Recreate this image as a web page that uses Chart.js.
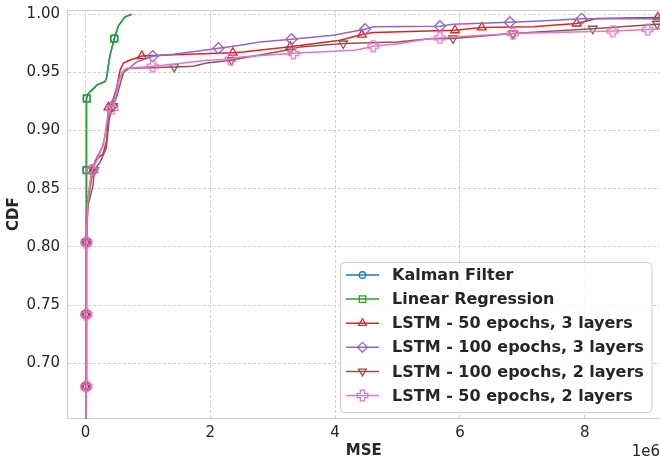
<!DOCTYPE html>
<html>
<head>
<meta charset="utf-8">
<script src="https://cdn.jsdelivr.net/npm/chart.js@4"></script>
<style>
  html, body { margin: 0; padding: 0; background: #fff; overflow: hidden; }
  #wrap { width: 660px; height: 459px; }
</style>
</head>
<body>
<div id="wrap"><canvas id="cdfChart" width="660" height="459"></canvas></div>
<script>
// MSE values are in raw units, tick labels are shown in 1e6
const M = 1e6;

const seriesNames = [
  'Kalman Filter',
  'Linear Regression',
  'LSTM - 50 epochs, 3 layers',
  'LSTM - 100 epochs, 3 layers',
  'LSTM - 100 epochs, 2 layers',
  'LSTM - 50 epochs, 2 layers'
];

const kalmanMse = [0.005, 0.008, 0.010, 0.012, 0.015, 0.019, 0.045, 0.125, 0.179, 0.31, 0.34, 0.365, 0.393, 0.46, 0.526, 0.633, 0.74];
const kalmanCdf = [0.64, 0.68, 0.742, 0.804, 0.866, 0.9275, 0.932, 0.936, 0.939, 0.942, 0.946, 0.956, 0.965, 0.979, 0.990, 0.9977, 1.0];
const kalmanMarks = [1, 2, 3, 4, 5, 13];

const linRegMse = [0.005, 0.008, 0.010, 0.012, 0.015, 0.019, 0.045, 0.125, 0.179, 0.31, 0.34, 0.365, 0.393, 0.46, 0.526, 0.633, 0.74];
const linRegCdf = [0.64, 0.68, 0.742, 0.804, 0.866, 0.9275, 0.932, 0.936, 0.939, 0.942, 0.946, 0.956, 0.965, 0.979, 0.990, 0.9977, 1.0];
const linRegMarks = [1, 2, 3, 4, 5, 13];

const lstm50x3Mse = [0.005, 0.008, 0.010, 0.012, 0.016, 0.072, 0.12, 0.152, 0.28, 0.34, 0.365, 0.42, 0.50, 0.553, 0.606, 0.686, 0.90, 1.19, 2.0, 2.36, 2.52, 3.28, 4.08, 4.43, 4.61, 5.92, 6.35, 7.17, 7.87, 8.19, 9.17, 9.6];
const lstm50x3Cdf = [0.64, 0.68, 0.742, 0.804, 0.826, 0.851, 0.866, 0.874, 0.880, 0.892, 0.920, 0.923, 0.937, 0.952, 0.958, 0.960, 0.964, 0.9647, 0.9662, 0.9669, 0.9676, 0.972, 0.9776, 0.9825, 0.9843, 0.9862, 0.9886, 0.9891, 0.992, 0.9963, 0.9972, 0.998];
const lstm50x3Marks = [1, 2, 3, 6, 10, 16, 19, 21, 23, 25, 26, 28, 30];

const lstm100x3Mse = [0.005, 0.008, 0.010, 0.012, 0.032, 0.10, 0.17, 0.28, 0.36, 0.425, 0.49, 0.537, 0.606, 0.66, 0.82, 0.98, 1.077, 1.41, 1.78, 2.13, 2.48, 2.80, 3.30, 3.97, 4.48, 4.61, 5.68, 5.89, 6.80, 7.28, 7.95, 9.6];
const lstm100x3Cdf = [0.64, 0.68, 0.742, 0.804, 0.84, 0.866, 0.876, 0.887, 0.9105, 0.921, 0.9346, 0.945, 0.9503, 0.9518, 0.959, 0.9619, 0.9639, 0.9656, 0.9682, 0.9707, 0.9733, 0.9762, 0.9785, 0.9819, 0.9871, 0.9891, 0.9897, 0.9914, 0.9931, 0.9942, 0.9960, 0.9962];
const lstm100x3Marks = [1, 2, 3, 5, 9, 16, 19, 22, 24, 26, 28, 30];

const lstm100x2Mse = [0.005, 0.008, 0.010, 0.012, 0.04, 0.12, 0.14, 0.23, 0.33, 0.38, 0.44, 0.505, 0.57, 0.617, 0.665, 0.873, 1.42, 1.73, 1.94, 2.34, 2.48, 3.06, 3.28, 3.44, 4.13, 4.99, 5.52, 5.89, 6.85, 7.17, 8.13, 9.16, 9.6];
const lstm100x2Cdf = [0.64, 0.68, 0.742, 0.804, 0.836, 0.853, 0.866, 0.8726, 0.8847, 0.9105, 0.921, 0.930, 0.943, 0.9518, 0.9533, 0.9538, 0.9546, 0.9553, 0.9581, 0.9604, 0.9619, 0.9676, 0.9696, 0.9719, 0.9748, 0.9762, 0.9788, 0.9791, 0.9834, 0.9845, 0.9875, 0.9914, 0.993];
const lstm100x2Marks = [1, 2, 3, 6, 10, 16, 19, 22, 24, 27, 28, 30, 31];

const lstm50x2Mse = [0.005, 0.008, 0.010, 0.012, 0.032, 0.072, 0.104, 0.20, 0.30, 0.36, 0.425, 0.49, 0.537, 0.585, 0.66, 1.077, 1.41, 1.94, 2.32, 2.48, 3.33, 4.29, 4.40, 4.61, 5.04, 5.52, 5.68, 5.89, 6.85, 8.45, 9.01, 9.6];
const lstm50x2Cdf = [0.64, 0.68, 0.742, 0.804, 0.8356, 0.853, 0.866, 0.876, 0.8916, 0.9157, 0.919, 0.930, 0.943, 0.950, 0.9533, 0.9553, 0.957, 0.9604, 0.9613, 0.9633, 0.9664, 0.969, 0.9699, 0.9725, 0.9748, 0.9791, 0.9796, 0.9805, 0.9834, 0.9855, 0.9868, 0.988];
const lstm50x2Marks = [1, 2, 3, 6, 10, 15, 18, 20, 23, 26, 28, 29, 30];

const xTicks = [0, 2, 4, 6, 8];
const yTicks = [0.70, 0.75, 0.80, 0.85, 0.90, 0.95, 1.00];

const colors = ['#1f77b4', '#2ca02c', '#d62728', '#9467bd', '#8c564b', '#e377c2'];
const TEXT = '#262626';
const SPINE = '#cccccc';
const FONT = "'DejaVu Sans', sans-serif";

// hollow filled-plus marker (matplotlib 'P')
function plusMarker(color) {
  const c = document.createElement('canvas');
  c.width = 13; c.height = 13;
  const g = c.getContext('2d');
  const m = 6.5, a = 2.1, L = 5.3;
  g.strokeStyle = color;
  g.lineWidth = 1.3;
  g.beginPath();
  g.moveTo(m - a, m - L); g.lineTo(m + a, m - L); g.lineTo(m + a, m - a);
  g.lineTo(m + L, m - a); g.lineTo(m + L, m + a); g.lineTo(m + a, m + a);
  g.lineTo(m + a, m + L); g.lineTo(m - a, m + L); g.lineTo(m - a, m + a);
  g.lineTo(m - L, m + a); g.lineTo(m - L, m - a); g.lineTo(m - a, m - a);
  g.closePath();
  g.stroke();
  return c;
}

const markers = [
  { style: 'circle', radius: 3.6, rotation: 0 },
  { style: 'rect', radius: 5, rotation: 0 },
  { style: 'triangle', radius: 5, rotation: 0 },
  { style: 'rectRot', radius: 5.5, rotation: 0 },
  { style: 'triangle', radius: 5, rotation: 180 },
  { style: plusMarker(colors[5]), radius: 6, rotation: 0 }
];

const seriesMse = [kalmanMse, linRegMse, lstm50x3Mse, lstm100x3Mse, lstm100x2Mse, lstm50x2Mse];
const seriesCdf = [kalmanCdf, linRegCdf, lstm50x3Cdf, lstm100x3Cdf, lstm100x2Cdf, lstm50x2Cdf];
const seriesMarks = [kalmanMarks, linRegMarks, lstm50x3Marks, lstm100x3Marks, lstm100x2Marks, lstm50x2Marks];

const datasets = seriesNames.map((name, i) => ({
  label: name,
  data: seriesMse[i].map((x, j) => ({ x: x * M, y: seriesCdf[i][j] })),
  borderColor: colors[i],
  backgroundColor: 'rgba(0,0,0,0)',
  borderWidth: 1.5,
  tension: 0,
  pointStyle: markers[i].style,
  pointRotation: markers[i].rotation,
  pointBorderWidth: 1.3,
  pointBorderColor: colors[i],
  pointBackgroundColor: 'rgba(0,0,0,0)',
  pointRadius: ctx => seriesMarks[i].includes(ctx.dataIndex) ? markers[i].radius : 0,
  pointHoverRadius: 0,
  order: seriesNames.length - i
}));

// legend box with line + marker samples, top spine and the 1e6 offset text
const extras = {
  id: 'extras',
  afterDraw(chart) {
    const ctx = chart.ctx;
    const area = chart.chartArea;
    ctx.save();
    ctx.strokeStyle = SPINE;
    ctx.lineWidth = 1;
    ctx.beginPath();
    ctx.moveTo(area.left, area.top + 0.5);
    ctx.lineTo(area.right, area.top + 0.5);
    ctx.stroke();

    ctx.fillStyle = TEXT;
    ctx.font = '15px ' + FONT;
    ctx.textAlign = 'right';
    ctx.textBaseline = 'middle';
    ctx.fillText('1e6', 660, 452);

    const bx = 340.5, by = 262.5, bw = 311.5, bh = 150, r = 4;
    ctx.beginPath();
    ctx.moveTo(bx + r, by);
    ctx.arcTo(bx + bw, by, bx + bw, by + bh, r);
    ctx.arcTo(bx + bw, by + bh, bx, by + bh, r);
    ctx.arcTo(bx, by + bh, bx, by, r);
    ctx.arcTo(bx, by, bx + bw, by, r);
    ctx.closePath();
    ctx.fillStyle = 'rgba(255,255,255,0.85)';
    ctx.fill();
    ctx.strokeStyle = SPINE;
    ctx.stroke();

    seriesNames.forEach((name, i) => {
      const y = 275 + i * 24.1;
      ctx.strokeStyle = colors[i];
      ctx.lineWidth = 1.5;
      ctx.beginPath();
      ctx.moveTo(346, y);
      ctx.lineTo(379, y);
      ctx.stroke();
      ctx.fillStyle = 'rgba(0,0,0,0)';
      ctx.lineWidth = 1.3;
      if (Chart.helpers && Chart.helpers.drawPoint) {
        Chart.helpers.drawPoint(ctx, {
          pointStyle: markers[i].style,
          rotation: markers[i].rotation,
          radius: markers[i].radius * 0.9,
          borderWidth: 1.3
        }, 362.5, y);
      }
      ctx.fillStyle = TEXT;
      ctx.font = 'bold 16px ' + FONT;
      ctx.textAlign = 'left';
      ctx.textBaseline = 'middle';
      ctx.fillText(name, 392, y + 1);
    });
    ctx.restore();
  }
};

const chart = new Chart(document.getElementById('cdfChart'), {
  type: 'line',
  data: { datasets },
  options: {
    responsive: false,
    animation: false,
    events: [],
    layout: { padding: { top: 10, left: 0, right: 0, bottom: 0 } },
    plugins: { legend: { display: false }, tooltip: { enabled: false } },
    scales: {
      x: {
        type: 'linear',
        min: -0.29 * M,
        max: 9.207 * M,
        afterFit: s => { s.height = 40.7; s.paddingLeft = 0; s.paddingRight = 0; },
        afterBuildTicks: s => { s.ticks = xTicks.map(v => ({ value: v * M })); },
        ticks: {
          includeBounds: false,
          autoSkip: false,
          maxRotation: 0,
          padding: 6,
          color: TEXT,
          font: { family: FONT, size: 15 },
          callback: v => String(Math.round(v / M))
        },
        grid: { color: SPINE, lineWidth: 0.9, drawTicks: false },
        border: { display: true, color: SPINE, width: 1, dash: [3, 2] },
        title: {
          display: true,
          text: 'MSE',
          color: TEXT,
          font: { family: FONT, size: 15, weight: 'bold', lineHeight: 1 },
          padding: { top: 0, bottom: 0 }
        }
      },
      y: {
        min: 0.6527,
        max: 1.0036,
        afterFit: s => { s.width = 67.5; s.paddingTop = 0; s.paddingBottom = 0; },
        afterBuildTicks: s => { s.ticks = yTicks.map(v => ({ value: v })); },
        ticks: {
          includeBounds: false,
          padding: 7.5,
          color: TEXT,
          font: { family: FONT, size: 15 },
          callback: v => v.toFixed(2)
        },
        grid: { color: SPINE, lineWidth: 0.9, drawTicks: false },
        border: { display: true, color: SPINE, width: 1, dash: [3, 2] },
        title: {
          display: true,
          text: 'CDF',
          color: TEXT,
          font: { family: FONT, size: 15, weight: 'bold' },
          padding: { top: 5, bottom: 0 }
        }
      }
    }
  },
  plugins: [extras]
});
</script>
</body>
</html>
